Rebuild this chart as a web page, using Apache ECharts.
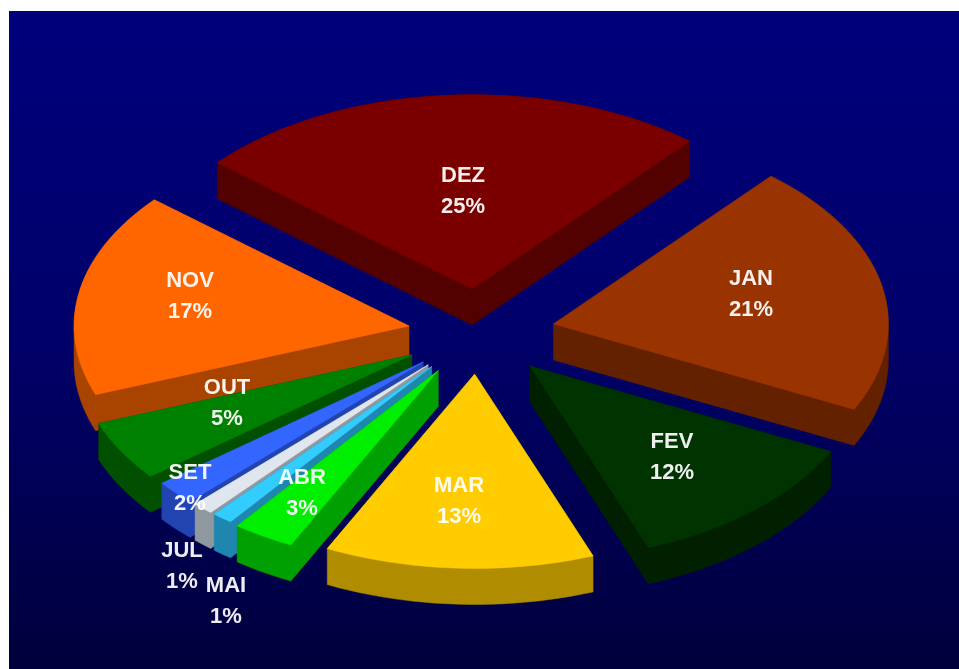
<!DOCTYPE html>
<html>
<head>
<meta charset="utf-8">
<style>html,body{margin:0;padding:0;background:#fff;overflow:hidden}#c{width:959px;height:669px;filter:blur(0.6px)}</style>
<script src="https://cdn.jsdelivr.net/npm/echarts@6/dist/echarts.min.js"></script>
</head>
<body>
<div id="c"></div>
<script>
// data (clockwise from the top-left edge of DEZ)
const months = ['DEZ','JAN','FEV','MAR','ABR','MAI','JUL','SET','OUT','NOV'];
const shares = [25,21,12,13,3,1,1,2,5,17];

// styling
const topColors  = ['#7a0000','#993300','#003300','#ffcc00','#00ee00','#33ccff','#dfe6ee','#3366ff','#008000','#ff6600'];
const wallColors = ['#520000','#642100','#002000','#b08c00','#00a000','#1f86b0','#8f979f','#2244b0','#005000','#a84400'];

// layout
const explode = [76,77,77,71,76,74,74,74,76,70];
const labelXY = [[463,191],[751,294],[672,457],[459,501],[302,493],[226,601],[182,566],[190,488],[227,403],[190,296]];
const START_DEG = -49.5, CX = 478, CY = 333, RX = 335, TILT = 0.58, DEPTH = 36;

const total = shares.reduce((a,b)=>a+b,0);
const rad = d => d*Math.PI/180;
const starts = [];
shares.reduce((acc,v,i)=>{starts[i]=acc;return acc+v;},0);

function sliceGeom(i){
  const a0 = START_DEG + starts[i]/total*360;
  const a1 = a0 + shares[i]/total*360;
  const mid = (a0+a1)/2;
  const ax = CX + explode[i]*Math.sin(rad(mid));
  const ay = CY - explode[i]*Math.cos(rad(mid))*TILT;
  const pts = [[ax,ay]];
  const n = Math.max(2,Math.ceil((a1-a0)/2));
  for(let k=0;k<=n;k++){
    const t = rad(a0+(a1-a0)*k/n);
    pts.push([ax+RX*Math.sin(t), ay-RX*Math.cos(t)*TILT]);
  }
  return {pts,mid};
}

// outline of the extruded slice (monotone chain)
function hull(points){
  const s = points.slice().sort((a,b)=>a[0]-b[0]||a[1]-b[1]);
  const cross=(o,a,b)=>(a[0]-o[0])*(b[1]-o[1])-(a[1]-o[1])*(b[0]-o[0]);
  const lo=[],up=[];
  s.forEach(p=>{while(lo.length>1&&cross(lo[lo.length-2],lo[lo.length-1],p)<=0)lo.pop();lo.push(p);});
  s.slice().reverse().forEach(p=>{while(up.length>1&&cross(up[up.length-2],up[up.length-1],p)<=0)up.pop();up.push(p);});
  lo.pop();up.pop();
  return lo.concat(up);
}

// paint back to front
const order = months.map((_,i)=>i).sort((p,q)=>
  Math.cos(rad(sliceGeom(q).mid))-Math.cos(rad(sliceGeom(p).mid)));

function renderItem(params,api){
  const i = api.value(0);
  const {pts} = sliceGeom(i);
  const wall = hull(pts.concat(pts.map(p=>[p[0],p[1]+DEPTH])));
  return {type:'group',children:[
    {type:'polygon',silent:true,shape:{points:wall},
     style:{fill:wallColors[i],stroke:wallColors[i],lineWidth:0.5}},
    {type:'polygon',silent:true,shape:{points:pts},
     style:{fill:topColors[i],stroke:topColors[i],lineWidth:0.5}}
  ]};
}

function renderLabels(params,api){
  const i = api.value(0);
  return {type:'text',silent:true,style:{
    text:months[i]+'\n'+shares[i]+'%',
    x:labelXY[i][0],y:labelXY[i][1],
    align:'center',verticalAlign:'middle',
    fill:'#ffffff',opacity:0.93,
    font:'bold 22px "Liberation Sans", Arial, sans-serif',
    lineHeight:31}};
}

const chart = echarts.init(document.getElementById('c'),null,{renderer:'canvas'});
chart.setOption({
  animation:false,
  backgroundColor:'#ffffff',
  graphic:[{type:'rect',silent:true,z:-1,shape:{x:9,y:11,width:950,height:658},
    style:{fill:{type:'linear',x:0,y:0,x2:0,y2:1,colorStops:[
      {offset:0,color:'#00007c'},{offset:0.5,color:'#00006a'},{offset:1,color:'#00003c'}]}}}],
  series:[
    {type:'custom',coordinateSystem:'none',silent:true,z:2,renderItem:renderItem,
     data:order.map(i=>[i,shares[i]])},
    {type:'custom',coordinateSystem:'none',silent:true,z:3,renderItem:renderLabels,
     data:order.map(i=>[i,shares[i]])}
  ]
});
</script>
</body>
</html>
